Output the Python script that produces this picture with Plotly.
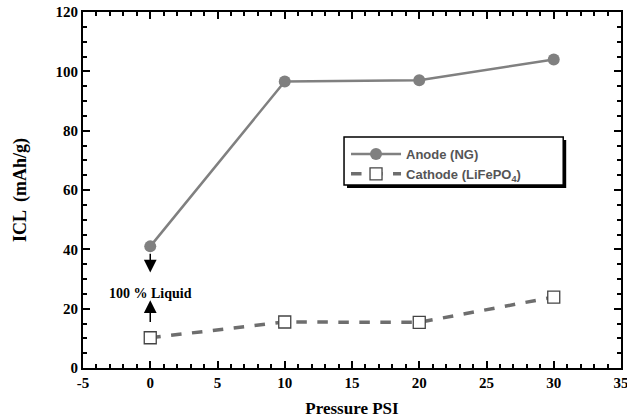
import plotly.graph_objects as go

pressure = [0, 10, 20, 30]
anode_icl = [41, 96.6, 97, 104]
cathode_icl = [10.2, 15.5, 15.4, 23.9]
x_ticks = [-5, 0, 5, 10, 15, 20, 25, 30, 35]
x_tick_labels = ["-5", "0", "5", "10", "15", "20", "25", "30", "35"]
y_ticks = [0, 20, 40, 60, 80, 100, 120]
y_tick_labels = ["0", "20", "40", "60", "80", "100", "120"]

fig = go.Figure()
fig.add_trace(go.Scatter(
    x=pressure, y=anode_icl, mode="lines+markers", name="Anode (NG)",
    line=dict(color="#808080", width=2.5),
    marker=dict(symbol="circle", size=12, color="#808080"),
))
fig.add_trace(go.Scatter(
    x=pressure, y=cathode_icl, mode="lines+markers", name="Cathode (LiFePO<sub>4</sub>)",
    line=dict(color="#6e6e6e", width=3.5, dash="dash"),
    marker=dict(symbol="square", size=12, color="white", line=dict(width=1.3, color="#444444")),
))

# annotation arrows
fig.add_annotation(x=0, y=32.2, ax=0, ay=39, xref="x", yref="y", axref="x", ayref="y",
                   text="", showarrow=True, arrowhead=2, arrowsize=1.7, arrowwidth=1.5, arrowcolor="black")
fig.add_annotation(x=0, y=22.8, ax=0, ay=15, xref="x", yref="y", axref="x", ayref="y",
                   text="", showarrow=True, arrowhead=2, arrowsize=1.7, arrowwidth=1.5, arrowcolor="black")
fig.add_annotation(x=0, y=25, xref="x", yref="y", text="<b>100 % Liquid</b>", showarrow=False,
                   font=dict(family="Liberation Serif", size=14, color="black"))

# legend box with shadow
px = lambda v: (v - 83) / 540
py = lambda v: (368 - v) / 356
fig.add_shape(type="rect", xref="paper", yref="paper",
              x0=px(348), x1=px(568), y0=py(188), y1=py(140),
              fillcolor="black", line=dict(width=0), layer="above")
fig.add_shape(type="rect", xref="paper", yref="paper",
              x0=px(345), x1=px(565), y0=py(185), y1=py(137),
              fillcolor="white", line=dict(width=1.5, color="black"), layer="above")

axis_common = dict(
    showline=True, linecolor="black", linewidth=2, mirror="allticks",
    ticks="inside", ticklen=7, tickwidth=1.8, tickcolor="black",
    showgrid=False, zeroline=False, ticklabeloverflow="allow",
    tickfont=dict(family="Liberation Serif", size=15, color="black"),
)
fig.update_xaxes(range=[-5, 35], tickmode="array", tickvals=x_ticks, automargin=False,
                 ticktext=["<b>" + t + "</b>" for t in x_tick_labels],
                 minor=dict(dtick=1, tick0=0, ticks="inside", ticklen=4, tickwidth=1.5, tickcolor="black"),
                 title=dict(text="<b>Pressure PSI</b>", font=dict(family="Liberation Serif", size=17, color="black")),
                 **axis_common)
fig.update_yaxes(range=[0, 120], tickmode="array", tickvals=y_ticks,
                 ticktext=["<b>" + t + "</b>" for t in y_tick_labels],
                 minor=dict(dtick=5, tick0=0, ticks="inside", ticklen=4, tickwidth=1.5, tickcolor="black"),
                 title=dict(text="<b>ICL  (mAh/g)</b>", font=dict(family="Liberation Serif", size=18, color="black"), standoff=24),
                 **axis_common)

fig.update_layout(
    width=627, height=418,
    margin=dict(l=83, r=4, t=12, b=50),
    plot_bgcolor="white", paper_bgcolor="white",
    showlegend=True,
    legend=dict(x=px(347), y=py(139), xanchor="left", yanchor="top",
                bgcolor="rgba(0,0,0,0)", borderwidth=0,
                font=dict(family="Liberation Sans", size=13, color="#555555", weight="bold"),
                itemwidth=50, tracegroupgap=0),
)
fig.write_html("out.html")
